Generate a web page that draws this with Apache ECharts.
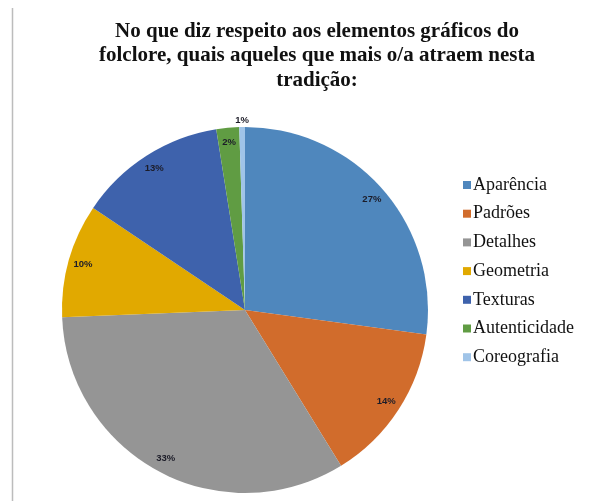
<!DOCTYPE html>
<html>
<head>
<meta charset="utf-8">
<script src="https://cdn.jsdelivr.net/npm/echarts@6/dist/echarts.min.js"></script>
<style>
  html, body { margin: 0; padding: 0; background: #fff; }
  #chart { width: 602px; height: 501px; }
</style>
</head>
<body>
<div id="chart"></div>
<script>
// categorias e valores (%)
const categories = ['Aparência', 'Padrões', 'Detalhes', 'Geometria', 'Texturas', 'Autenticidade', 'Coreografia']
const values = [27, 14, 33, 10, 13, 2, 0.5]  // a fatia de Coreografia é mais fina que 1%, rótulo arredondado
const colors = ['#4F87BD', '#D16C2C', '#959595', '#E1A900', '#3E62AC', '#609C43', '#A0C4E8']

const titleText = 'No que diz respeito aos elementos gráficos do\nfolclore, quais aqueles que mais o/a atraem nesta\ntradição:'

const serif = '"Liberation Serif", "DejaVu Serif", serif'

const pieData = categories.map((name, i) => ({ name, value: values[i] }))

// série só para os rótulos, perto da borda (como no Excel)
const labelData = categories.map((name, i) => {
  let d = { name, value: values[i] }
  if (i === categories.length - 1) {
    d.label = { position: 'outside', distanceToLabelLine: 0 }
    d.labelLine = { show: false, length: 7, length2: 0 }
  }
  return d
})

const chart = echarts.init(document.getElementById('chart'), null, { renderer: 'canvas' })

chart.setOption({
  backgroundColor: '#fff',
  animation: false,
  color: colors,
  title: {
    text: titleText,
    left: 312,
    top: 14,
    textAlign: 'center',
    textStyle: {
      fontFamily: serif,
      fontWeight: 'bold',
      fontSize: 21,
      lineHeight: 24.5,
      color: '#111'
    }
  },
  legend: {
    orient: 'vertical',
    left: 463,
    top: 176,
    padding: 0,
    itemWidth: 8,
    itemHeight: 8,
    itemGap: 10.7,
    icon: 'rect',
    data: categories,
    textStyle: {
      fontFamily: serif,
      fontSize: 18,
      lineHeight: 18,
      color: '#111',
      padding: [0, 0, 0, -3]
    }
  },
  graphic: [{
    type: 'line',
    shape: { x1: 12.5, y1: 8, x2: 12.5, y2: 501 },
    style: { stroke: '#bcbcbc', lineWidth: 1.5 },
    silent: true
  }],
  series: [
    {
      type: 'pie',
      center: [245, 310],
      radius: [0, 183],
      startAngle: 90,
      clockwise: true,
      label: { show: false },
      labelLine: { show: false },
      itemStyle: { borderWidth: 0 },
      emphasis: { disabled: true },
      data: pieData
    },
    {
      type: 'pie',
      center: [245, 310],
      radius: [148, 183],
      startAngle: 90,
      clockwise: true,
      silent: true,
      itemStyle: { color: 'rgba(0,0,0,0)', borderWidth: 0 },
      label: {
        show: true,
        position: 'inside',
        formatter: p => Math.round(p.value) + '%',
        fontFamily: '"Liberation Sans", Arial, sans-serif',
        fontSize: 9.5,
        fontWeight: 'bold',
        color: '#1c1c28'
      },
      labelLayout: p => (p.dataIndex === categories.length - 1 ? { dx: 7 } : {}),
      labelLine: { show: false },
      emphasis: { disabled: true },
      data: labelData
    }
  ]
})
</script>
</body>
</html>
